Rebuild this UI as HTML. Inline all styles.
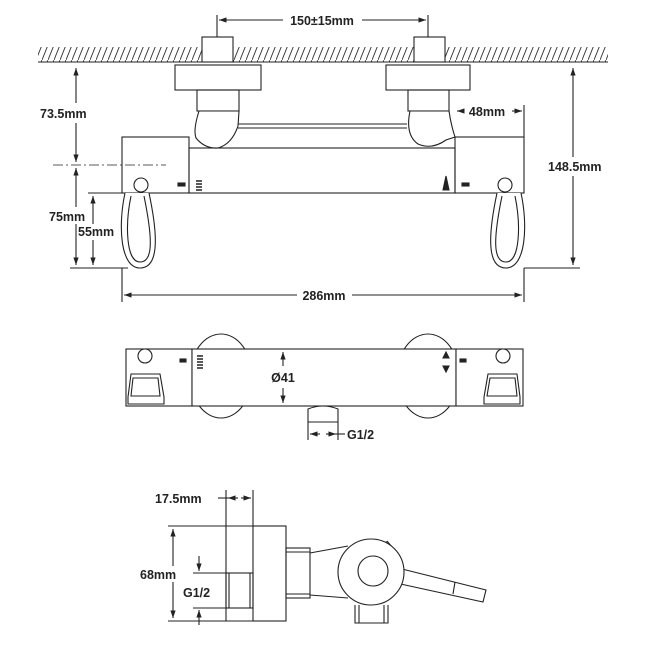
<!DOCTYPE html>
<html><head><meta charset="utf-8"><style>
html,body{margin:0;padding:0;background:#fff}
svg{display:block}
text{font-family:"Liberation Sans",sans-serif;font-size:12.5px;font-weight:bold;fill:#222}
</style></head><body>
<svg width="650" height="650" viewBox="0 0 650 650" xmlns="http://www.w3.org/2000/svg">
<defs>
<marker id="a" viewBox="0 0 10 10" refX="10" refY="5" markerWidth="7" markerHeight="7" orient="auto-start-reverse"><path d="M0,1.5 L10,5 L0,8.5 z" fill="#222"/></marker>
<pattern id="h" width="6" height="15" patternUnits="userSpaceOnUse"><path d="M0,15 L6,0" stroke="#333" stroke-width="0.9"/></pattern>
</defs>
<g stroke="#222" stroke-width="1.1" fill="none">
<!-- TOP VIEW -->
<rect x="38" y="47" width="570" height="15" fill="url(#h)" stroke="none"/>
<line x1="38" y1="62" x2="608" y2="62"/>
<line x1="217" y1="15" x2="217" y2="40"/><line x1="428" y1="15" x2="428" y2="40"/>
<line x1="219" y1="20" x2="283" y2="20" marker-start="url(#a)"/><line x1="362" y1="20" x2="426" y2="20" marker-end="url(#a)"/>
<rect x="202" y="37" width="31" height="25" fill="#fff"/><rect x="414" y="37" width="31" height="25" fill="#fff"/>
<rect x="175" y="65" width="86" height="25"/><rect x="386" y="65" width="84" height="25"/>
<rect x="197" y="90" width="42" height="21"/><rect x="408" y="90" width="41" height="21"/>
<line x1="238" y1="124" x2="407" y2="124"/><line x1="238" y1="128" x2="407" y2="128"/>
<path d="M199,111 Q193,130 196,138 Q205,149 218,148 Q232,144 238,126 L239,111 Z" fill="#fff"/>
<path d="M410,111 Q405,135 418,144 Q432,150 446,140 L455,137 Q451,125 449,111 Z" fill="#fff"/>
<rect x="122" y="137" width="67" height="56"/>
<rect x="189" y="148" width="266" height="45"/>
<rect x="455" y="137" width="69" height="56"/>
<circle cx="141" cy="185" r="7" fill="#fff"/><circle cx="505" cy="185" r="7" fill="#fff"/>
<path d="M125,193 C118,225 120,268 140,268 C158,268 159,240 149,193" fill="#fff"/>
<path d="M131,196 C125,225 126,262 140,262 C153,262 153,240 144,196"/>
<path d="M521,193 C528,225 526,268 506,268 C488,268 487,240 497,193" fill="#fff"/>
<path d="M515,196 C521,225 520,262 506,262 C493,262 493,240 502,196"/>
<line x1="53" y1="165" x2="166" y2="165" stroke-dasharray="10,3,2,3" stroke-width="0.8"/>
<line x1="70" y1="268" x2="128" y2="268"/><line x1="88" y1="193" x2="122" y2="193"/>
<line x1="76" y1="68" x2="76" y2="103" marker-start="url(#a)"/><line x1="76" y1="123" x2="76" y2="162" marker-end="url(#a)"/>
<line x1="76" y1="168" x2="76" y2="207"  marker-start="url(#a)"/><line x1="76" y1="224" x2="76" y2="265" marker-end="url(#a)"/>
<line x1="93" y1="196" x2="93" y2="224" marker-start="url(#a)"/><line x1="93" y1="240" x2="93" y2="265" marker-end="url(#a)"/>
<line x1="524" y1="268" x2="580" y2="268"/>
<line x1="573" y1="68" x2="573" y2="157" marker-start="url(#a)"/><line x1="573" y1="176" x2="573" y2="265" marker-end="url(#a)"/>
<line x1="524" y1="105" x2="524" y2="137"/>
<line x1="457" y1="111" x2="463" y2="111" marker-start="url(#a)"/><line x1="512" y1="111" x2="522" y2="111" marker-end="url(#a)"/>
<line x1="122" y1="268" x2="122" y2="302"/><line x1="524" y1="268" x2="524" y2="302"/>
<line x1="124" y1="295" x2="297" y2="295" marker-start="url(#a)"/><line x1="352" y1="295" x2="522" y2="295" marker-end="url(#a)"/>
<rect x="178" y="183" width="7" height="3" fill="#222"/><rect x="462" y="183" width="7" height="3" fill="#222"/>
<path d="M196,181 h6 M196,184 h6 M196,187 h6 M196,190 h6" stroke-width="1.5"/>
<path d="M446,176 l-3,14 h6 z" fill="#222"/>
<!-- MIDDLE VIEW -->
<ellipse cx="221" cy="376" rx="31" ry="42" fill="#fff"/>
<ellipse cx="428" cy="376" rx="31" ry="42" fill="#fff"/>
<rect x="126" y="349" width="66" height="57" fill="#fff"/>
<rect x="192" y="349" width="264" height="57" fill="#fff"/>
<rect x="456" y="349" width="67" height="57" fill="#fff"/>
<circle cx="145" cy="356" r="7" fill="#fff"/><circle cx="503" cy="356" r="7" fill="#fff"/>
<path d="M128,404 L128,397 L131,374 L160,374 L164,397 L164,404 Z"/><path d="M133,378 L158,378 L160,396 L131,396 Z"/>
<path d="M484,404 L484,397 L488,374 L517,374 L520,397 L520,404 Z"/><path d="M490,378 L515,378 L517,396 L487,396 Z"/>
<rect x="180" y="359" width="6" height="3" fill="#222"/><rect x="460" y="359" width="6" height="3" fill="#222"/>
<path d="M197,356 h6 M197,359 h6 M197,362 h6 M197,365 h6 M197,368 h6" stroke-width="1.5"/>
<path d="M446,352 l-3,6 h6 z M446,372 l-3,-6 h6 z" fill="#222"/>
<line x1="283" y1="352" x2="283" y2="366" marker-start="url(#a)"/><line x1="283" y1="388" x2="283" y2="403" marker-end="url(#a)"/>
<path d="M308,422 L308,409 Q323,403 338,409 L338,422"/><line x1="308" y1="422" x2="338" y2="422"/>
<line x1="308" y1="422" x2="308" y2="440"/><line x1="338" y1="422" x2="338" y2="440"/>
<line x1="310" y1="434" x2="320" y2="434" marker-start="url(#a)"/><line x1="326" y1="434" x2="336" y2="434" marker-end="url(#a)"/><line x1="336" y1="434" x2="345" y2="434"/>
<!-- BOTTOM VIEW -->
<line x1="226" y1="490" x2="226" y2="621"/><line x1="253" y1="490" x2="253" y2="526"/>
<line x1="218" y1="498" x2="228" y2="498"/>
<line x1="228" y1="498" x2="238" y2="498" marker-start="url(#a)"/><line x1="241" y1="498" x2="251" y2="498" marker-end="url(#a)"/>
<rect x="253" y="526" width="33" height="95"/>
<line x1="168" y1="526" x2="253" y2="526"/><line x1="168" y1="621" x2="253" y2="621"/>
<line x1="173" y1="529" x2="173" y2="566" marker-start="url(#a)"/><line x1="173" y1="582" x2="173" y2="618" marker-end="url(#a)"/>
<rect x="226" y="573" width="27" height="35"/><line x1="229" y1="573" x2="229" y2="608"/><line x1="250" y1="573" x2="250" y2="608"/>
<line x1="193" y1="573" x2="226" y2="573"/><line x1="193" y1="608" x2="226" y2="608"/>
<line x1="199" y1="556" x2="199" y2="571" marker-end="url(#a)"/><line x1="199" y1="625" x2="199" y2="610" marker-end="url(#a)"/>
<rect x="286" y="548" width="24" height="50"/><line x1="286" y1="552" x2="310" y2="552"/><line x1="286" y1="594" x2="310" y2="594"/>
<path d="M310,553 L348,546 M310,595 L348,598"/>
<rect x="383" y="543" width="10" height="14" transform="rotate(-40 388 550)" fill="#fff"/>
<path d="M398,568 L486,590 L483,602 L396,583" fill="#fff"/><line x1="455" y1="582" x2="453" y2="594"/>
<circle cx="371" cy="572" r="33" fill="#fff"/>
<circle cx="373" cy="571" r="15"/>
<path d="M355,605 L355,623 L388,623 L388,605"/><line x1="359" y1="605" x2="359" y2="623"/><line x1="384" y1="605" x2="384" y2="623"/>
</g>
<g>
<text x="322" y="25" text-anchor="middle">150±15mm</text>
<text x="40" y="118">73.5mm</text>
<text x="548" y="171">148.5mm</text>
<text x="487" y="116" text-anchor="middle">48mm</text>
<text x="49" y="221">75mm</text>
<text x="78" y="236">55mm</text>
<text x="324" y="300" text-anchor="middle">286mm</text>
<text x="283" y="382" text-anchor="middle" font-size="14">Ø41</text>
<text x="347" y="439">G1/2</text>
<text x="155" y="503">17.5mm</text>
<text x="140" y="579">68mm</text>
<text x="183" y="597">G1/2</text>
</g>
</svg>
</body></html>
